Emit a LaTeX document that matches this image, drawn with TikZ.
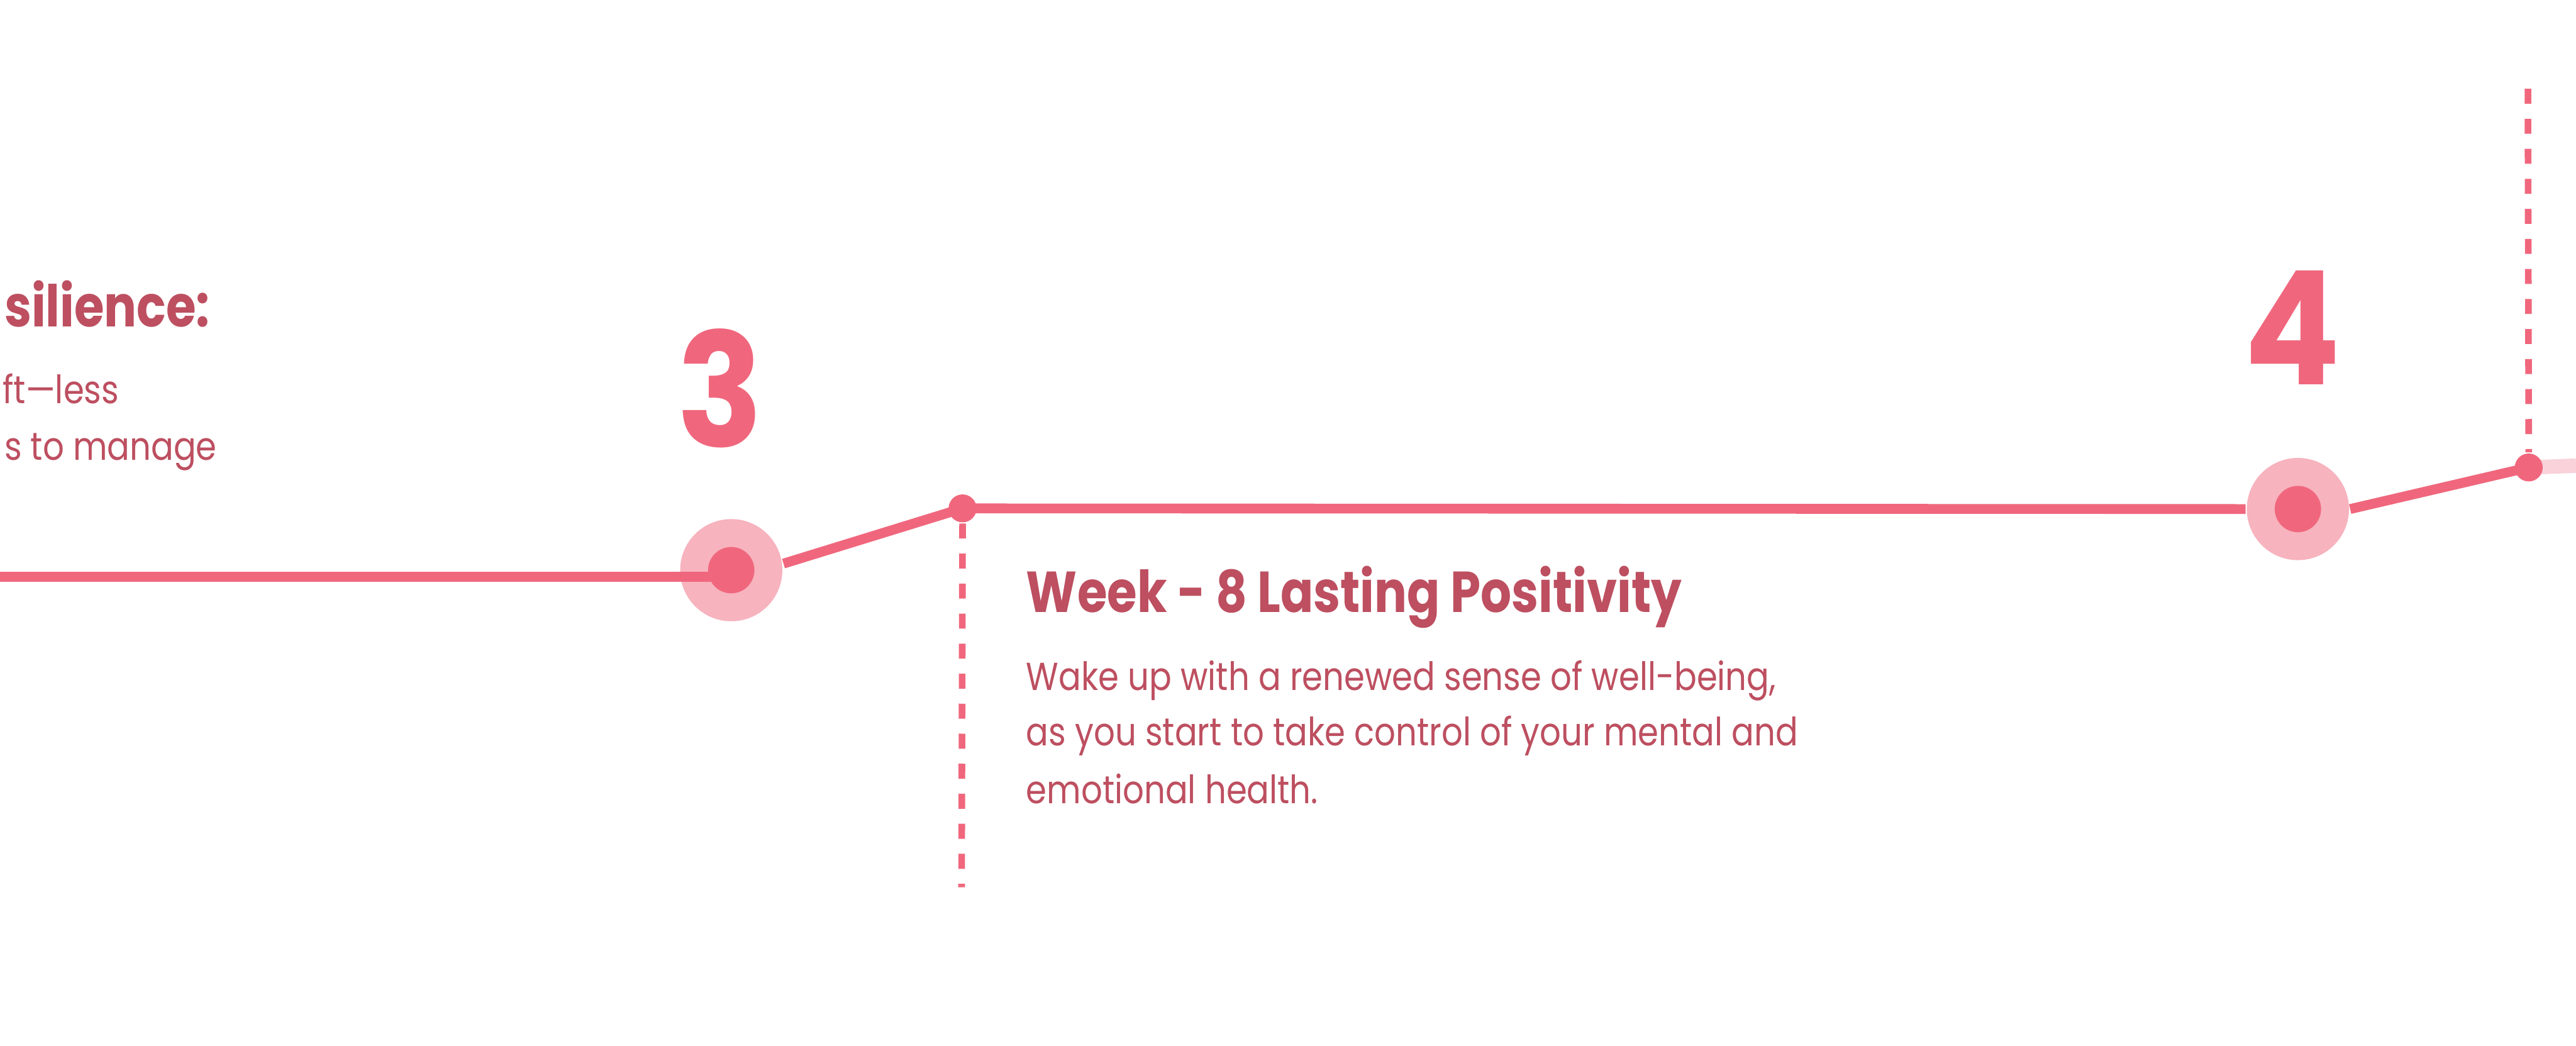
\documentclass[tikz,border=0pt]{standalone}
\usepackage{fontspec}
\setmainfont{Poppins}[FakeStretch=0.9]
\newfontfamily\headfont{Poppins}[FakeStretch=0.84]
\newfontfamily\bodyfont{Poppins}[FakeStretch=0.853]
\usetikzlibrary{positioning}
\definecolor{rose}{HTML}{F0677D}
\definecolor{halocol}{HTML}{F7B3BE}
\definecolor{blush}{HTML}{F9D2DA}
\definecolor{ink}{HTML}{BD4F60}
\begin{document}
\begin{tikzpicture}[
  track/.style={draw=rose, line width=1.7pt},
  tail/.style={draw=blush, line width=2.5pt},
  guide/.style={draw=rose, line width=1.15pt, dash pattern=on 2.6pt off 2.6pt},
  halo/.style={circle, fill=halocol, minimum size=6.22mm, inner sep=0pt},
  core/.style={circle, fill=rose, minimum size=2.82mm, inner sep=0pt},
  pin/.style={circle, fill=rose, minimum size=1.7mm, inner sep=0pt},
  digit/.style={font=\fontsize{27.4}{28}\selectfont\bfseries, text=rose, inner sep=0pt, anchor=base},
  headline/.style={font=\headfont\fontsize{10}{12}\selectfont\bfseries, text=ink, inner sep=0pt},
  body/.style={font=\bodyfont\fontsize{6.76}{8}\selectfont, text=ink, inner sep=0pt}]
  \useasboundingbox (0,0) rectangle (15.68,6.365);
  \fill[white] (0,0) rectangle (15.68,6.365);
  \clip (0,0) rectangle (15.68,6.365);

  \coordinate (lstart) at (0,2.855);
  \coordinate (rend) at (15.68,3.531);
  \coordinate (p1) at (5.859,3.271);
  \coordinate (p2) at (15.392,3.52);
  \coordinate (g1end) at (5.853,0.965);
  \coordinate (g2top) at (15.387,5.825);

  \node[halo] (h3) at (4.451,2.895) {};
  \node[halo] (h4) at (13.987,3.267) {};
  \draw[tail] (p2) -- (rend);
  \draw[track] (h3.east) ++(0,0.04) -- (p1) -- (h4.west);
  \draw[track] (h4.east) -- (p2);
  \draw[track] (lstart) -- (lstart -| h3.center);
  \node[core] (n3) at (h3) {};
  \node[core] (n4) at (h4) {};
  \node[pin] (pin1) at (p1) {};
  \node[pin] (pin2) at (p2) {};
  \draw[guide] (pin1.south) -- (g1end);
  \draw[guide] (g2top) -- (pin2.north);

  \node[digit] (num3) at (4.384,3.645) {3};
  \node[digit] (num4) at (13.953,4.025) {4};

  \node[headline, anchor=base west] (oldtitle) at (0.02,4.378) {silience:};
  \node[body, anchor=base west] (old1) at (0.01,3.908) {ft—less};
  \node[body, anchor=base west] (old2) at (0.02,3.565) {s to manage};

  \node[headline, anchor=base west] (title) at (6.24,2.637) {Week - 8 Lasting Positivity};
  \node[body, anchor=base west] (line1) at ([yshift=-0.473cm]title.base west) {Wake up with a renewed sense of well-being,};
  \node[body, anchor=base west] (line2) at ([yshift=-0.338cm]line1.base west) {as you start to take control of your mental and};
  \node[body, anchor=base west] (line3) at ([yshift=-0.351cm]line2.base west) {emotional health.};
\end{tikzpicture}
\end{document}
